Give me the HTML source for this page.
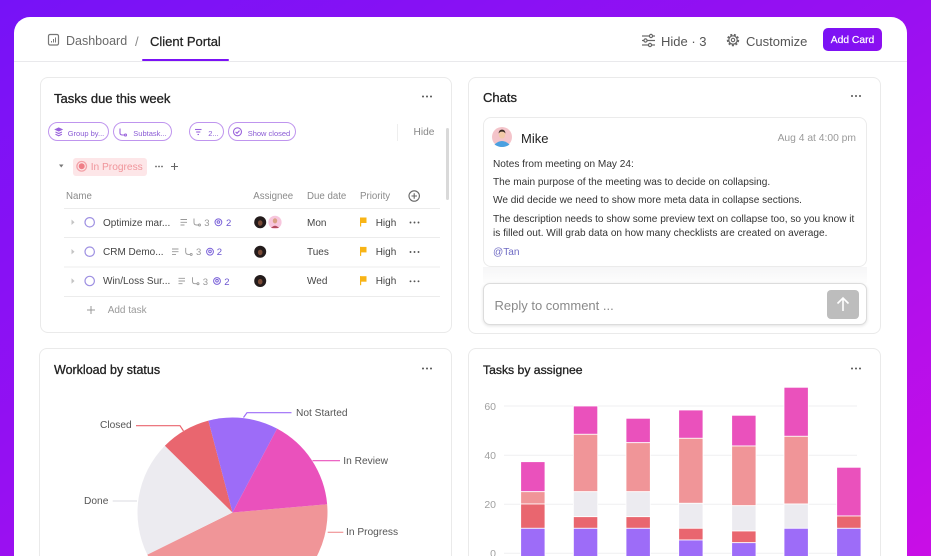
<!DOCTYPE html>
<html><head><meta charset="utf-8">
<style>
*{margin:0;padding:0;box-sizing:border-box}
html,body{width:931px;height:556px;overflow:hidden}
body{position:relative;font-family:"Liberation Sans",Arial,sans-serif;background:linear-gradient(150deg,#7612f7 0%,#9a10f1 50%,#c90ee6 100%)}
.panel{position:absolute;left:14px;top:17px;width:893px;height:580px;background:#fff;border-radius:16px}
.card{position:absolute;background:#fff;border:1px solid #eaeaea;border-radius:8px}
.t{position:absolute;white-space:nowrap;line-height:1;margin-top:1.5px}
.ttl{-webkit-text-stroke:0.3px #222;color:#222}
svg.ov{position:absolute;left:0;top:0}
</style></head><body>
<div class="panel"></div>
<div style="position:absolute;left:14px;top:61px;width:893px;height:1px;background:#e9e9ec"></div>
<div style="position:absolute;left:142px;top:58.5px;width:87px;height:2.5px;background:#7b12f5;border-radius:2px"></div>

<!-- cards -->
<div class="card" style="left:40px;top:77px;width:412px;height:256px"></div>
<div class="card" style="left:468px;top:77px;width:413px;height:257px"></div>
<div class="card" style="left:39px;top:348px;width:413px;height:230px"></div>
<div class="card" style="left:468px;top:348px;width:413px;height:230px"></div>

<!-- chat inner -->
<div style="position:absolute;left:483px;top:267px;width:384px;height:16px;background:linear-gradient(#f6f6f7,#fdfdfd)"></div>
<div style="position:absolute;left:483px;top:117px;width:384px;height:150px;border:1px solid #ebebeb;border-radius:8px;background:#fff"></div>
<div style="position:absolute;left:483px;top:283px;width:384px;height:42px;border:1px solid #dcdcdc;border-radius:7px;background:#fff;box-shadow:0 1px 3px rgba(0,0,0,0.12)"></div>
<div style="position:absolute;left:827px;top:290px;width:32px;height:29px;background:#bdbdbd;border-radius:4px"></div>

<!-- add card btn -->
<div style="position:absolute;left:823px;top:28px;width:59px;height:23px;border-radius:5px;background:linear-gradient(90deg,#7a12f5,#8c10f0)"></div>

<!-- in progress pill -->
<div style="position:absolute;left:73px;top:158px;width:74px;height:18px;background:#fde6e8;border-radius:3px"></div>

<!-- chips -->
<div style="position:absolute;left:48px;top:122px;width:61px;height:19px;border:1.2px solid #bf95ee;border-radius:10px"></div>
<div style="position:absolute;left:113px;top:122px;width:59px;height:19px;border:1.2px solid #bf95ee;border-radius:10px"></div>
<div style="position:absolute;left:189px;top:122px;width:35px;height:19px;border:1.2px solid #bf95ee;border-radius:10px"></div>
<div style="position:absolute;left:228px;top:122px;width:68px;height:19px;border:1.2px solid #bf95ee;border-radius:10px"></div>
<div style="position:absolute;left:397px;top:124px;width:1px;height:17px;background:#eee"></div>
<div style="position:absolute;left:446px;top:128px;width:3px;height:72px;background:#d9d9d9;border-radius:2px"></div>

<svg class="ov" width="931" height="556" viewBox="0 0 931 556">
  <!-- dashboard icon -->
  <rect x="48.5" y="34.5" width="10" height="10.5" rx="1.5" fill="none" stroke="#777" stroke-width="1.2"/>
  <line x1="51.5" y1="42.5" x2="51.5" y2="41" stroke="#777" stroke-width="1"/>
  <line x1="53.5" y1="42.5" x2="53.5" y2="39" stroke="#777" stroke-width="1"/>
  <line x1="55.5" y1="42.5" x2="55.5" y2="37.5" stroke="#777" stroke-width="1"/>
  <!-- sliders -->
  <g stroke="#666" stroke-width="1.2" fill="#fff">
    <line x1="642" y1="36" x2="655" y2="36"/><line x1="642" y1="40.5" x2="655" y2="40.5"/><line x1="642" y1="45" x2="655" y2="45"/>
    <circle cx="651" cy="36" r="1.6"/><circle cx="645.5" cy="40.5" r="1.6"/><circle cx="650" cy="45" r="1.6"/>
  </g>
  <!-- gear -->
  <circle cx="733" cy="40" r="5.2" fill="none" stroke="#666" stroke-width="2" stroke-dasharray="2 1.6"/>
  <circle cx="733" cy="40" r="4.2" fill="#fff" stroke="#666" stroke-width="1.2"/>
  <circle cx="733" cy="40" r="1.7" fill="none" stroke="#666" stroke-width="1.1"/>

  <!-- dots -->
  <g fill="#555">
    <circle cx="423" cy="96.5" r="1"/><circle cx="427" cy="96.5" r="1"/><circle cx="431" cy="96.5" r="1"/>
    <circle cx="852" cy="96" r="1"/><circle cx="856" cy="96" r="1"/><circle cx="860" cy="96" r="1"/>
    <circle cx="423" cy="368.5" r="1"/><circle cx="427" cy="368.5" r="1"/><circle cx="431" cy="368.5" r="1"/>
    <circle cx="852" cy="368.5" r="1"/><circle cx="856" cy="368.5" r="1"/><circle cx="860" cy="368.5" r="1"/>
  </g>

  <!-- chip icons -->
  <g fill="none" stroke="#9a63dc" stroke-width="1.1">
    <path d="M55.5 129.5 L58.7 128 L61.9 129.5 L58.7 131 Z" fill="#9a63dc"/>
    <path d="M55.5 132 L58.7 133.5 L61.9 132"/><path d="M55.5 134.3 L58.7 135.8 L61.9 134.3"/>
    <path d="M120 128.5 L120 133 Q120 135 122.5 135 L125 135"/><circle cx="125.5" cy="135" r="1"/>
    <line x1="195" y1="129.5" x2="201.5" y2="129.5"/><line x1="196.2" y1="132" x2="200.3" y2="132"/><line x1="197.5" y1="134.5" x2="199" y2="134.5"/>
    <circle cx="237.5" cy="131.8" r="4"/><path d="M235.6 131.9 L237 133.3 L239.5 130.6"/>
  </g>

  <!-- in progress -->
  <path d="M59 164.5 L63.5 164.5 L61.25 167.5 Z" fill="#777"/>
  <circle cx="81.7" cy="166.3" r="4.8" fill="none" stroke="#f3a2a8" stroke-width="1.3"/>
  <circle cx="81.7" cy="166.3" r="3" fill="#ef7e87"/>
  <g fill="#666"><circle cx="156" cy="166.5" r="0.9"/><circle cx="159" cy="166.5" r="0.9"/><circle cx="162" cy="166.5" r="0.9"/></g>
  <path d="M171 166.5 H178 M174.5 163 V170" stroke="#666" stroke-width="1.1"/>

  <!-- table header plus -->
  <circle cx="414.2" cy="196" r="5.2" fill="none" stroke="#666" stroke-width="1.1"/>
  <path d="M411.5 196 H417 M414.2 193.3 V198.7" stroke="#666" stroke-width="1.1"/>

  <!-- row lines -->
  <g stroke="#ececec" stroke-width="1">
    <line x1="64" y1="208.5" x2="440" y2="208.5"/><line x1="64" y1="237.5" x2="440" y2="237.5"/>
    <line x1="64" y1="267" x2="440" y2="267"/><line x1="64" y1="296.5" x2="440" y2="296.5"/>
  </g>

  <!-- rows -->
  <g id="rows">
    <g fill="#c4c4c4">
      <path d="M71.5 219.5 L74.5 222.3 L71.5 225 Z"/><path d="M71.5 249 L74.5 251.7 L71.5 254.4 Z"/><path d="M71.5 278.3 L74.5 281 L71.5 283.7 Z"/>
    </g>
    <g fill="none" stroke="#9e90e2" stroke-width="1.2">
      <circle cx="89.7" cy="222.3" r="4.7"/><circle cx="89.7" cy="251.7" r="4.7"/><circle cx="89.7" cy="281" r="4.7"/>
    </g>
    <g stroke="#999" stroke-width="0.9">
      <path d="M180.5 219.5 H187 M180.5 222.3 H187 M180.5 225 H184.5"/>
      <path d="M172 249 H178.5 M172 251.7 H178.5 M172 254.4 H176"/>
      <path d="M178.5 278.3 H185 M178.5 281 H185 M178.5 283.7 H182.5"/>
    </g>
    <g fill="none" stroke="#999" stroke-width="0.9">
      <path d="M194 218.5 V222.5 Q194 225 196.5 225 H198.5"/><circle cx="199.5" cy="225" r="1"/>
      <path d="M185.7 247.9 V251.9 Q185.7 254.4 188.2 254.4 H190.2"/><circle cx="191.2" cy="254.4" r="1"/>
      <path d="M192.5 277.2 V281.2 Q192.5 283.7 195 283.7 H197"/><circle cx="198" cy="283.7" r="1"/>
    </g>
    <g fill="none" stroke="#7b62d9" stroke-width="1">
      <circle cx="218.4" cy="222.3" r="3.4"/><circle cx="218.4" cy="222" r="1.3"/>
      <circle cx="210" cy="251.7" r="3.4"/><circle cx="210" cy="251.4" r="1.3"/>
      <circle cx="217" cy="281" r="3.4"/><circle cx="217" cy="280.7" r="1.3"/>
    </g>
    <g>
      <circle cx="275" cy="222.3" r="6.6" fill="#f7c6dd"/>
      <ellipse cx="275" cy="220.8" rx="2.2" ry="2.6" fill="#d9a184"/>
      <path d="M271 228 Q275 223.5 279 228 Z" fill="#b24a5e"/>
      <circle cx="260.2" cy="222.3" r="6.6" fill="#fff"/>
      <circle cx="260.2" cy="222.3" r="6" fill="#231b1b"/>
      <ellipse cx="260.2" cy="223" rx="2.3" ry="2.8" fill="#7a4a36"/>
      <circle cx="260.2" cy="251.7" r="6" fill="#231b1b"/>
      <ellipse cx="260.2" cy="252.4" rx="2.3" ry="2.8" fill="#7a4a36"/>
      <circle cx="260.2" cy="281" r="6" fill="#231b1b"/>
      <ellipse cx="260.2" cy="281.7" rx="2.3" ry="2.8" fill="#7a4a36"/>
    </g>
    <g fill="#f8b416">
      <rect x="360" y="217.5" width="6.5" height="5.5"/><rect x="360" y="217.5" width="1.2" height="9"/>
      <rect x="360" y="246.9" width="6.5" height="5.5"/><rect x="360" y="246.9" width="1.2" height="9"/>
      <rect x="360" y="276.2" width="6.5" height="5.5"/><rect x="360" y="276.2" width="1.2" height="9"/>
    </g>
    <g fill="#555">
      <circle cx="410.5" cy="222.5" r="0.95"/><circle cx="414.5" cy="222.5" r="0.95"/><circle cx="418.5" cy="222.5" r="0.95"/>
      <circle cx="410.5" cy="252" r="0.95"/><circle cx="414.5" cy="252" r="0.95"/><circle cx="418.5" cy="252" r="0.95"/>
      <circle cx="410.5" cy="281.3" r="0.95"/><circle cx="414.5" cy="281.3" r="0.95"/><circle cx="418.5" cy="281.3" r="0.95"/>
    </g>
    <path d="M87 310 H95 M91 306 V314" stroke="#999" stroke-width="1"/>
  </g>

  <!-- Mike avatar -->
  <circle cx="502" cy="137" r="10" fill="#f4c4ca"/>
  <path d="M494.5 144.5 Q502 137.5 509.5 144.5 Q506 147 502 147 Q498 147 494.5 144.5 Z" fill="#4aa0e0"/>
  <ellipse cx="502" cy="134.5" rx="3.3" ry="4" fill="#f2c9a8"/>
  <path d="M498.6 133.5 Q499 129.5 502 129.6 Q505.2 129.5 505.4 133.5 Q504 131.3 502 131.6 Q500 131.3 498.6 133.5 Z" fill="#3a2a24"/>

  <!-- send arrow -->
  <path d="M843 311 V298 M837.5 303.5 L843 298 L848.5 303.5" fill="none" stroke="#fff" stroke-width="1.6"/>

  <!-- PIE -->
  <g>
    <path d="M232.5 512.5 L327.14 504.22 A95 95 0 0 1 147.33 554.59 Z" fill="#f09598"/>
    <path d="M232.5 512.5 L147.33 554.59 A95 95 0 0 1 164.86 445.79 Z" fill="#ecebf0"/>
    <path d="M232.5 512.5 L164.86 445.79 A95 95 0 0 1 208.39 420.61 Z" fill="#e9666f"/>
    <path d="M232.5 512.5 L208.39 420.61 A95 95 0 0 1 277.10 428.62 Z" fill="#9d6cf8"/>
    <path d="M232.5 512.5 L277.10 428.62 A95 95 0 0 1 327.14 504.22 Z" fill="#ea51bc"/>
  </g>
  <g fill="none" stroke-width="1.2">
    <path d="M243.5 417.5 L247 412.7 H291.5" stroke="#9d6cf8"/>
    <path d="M136 425.7 H180 L183.5 431" stroke="#e9666f"/>
    <path d="M312.5 460.7 H340" stroke="#ea51bc"/>
    <path d="M112.7 501 H137" stroke="#e2e2e6"/>
    <path d="M327.7 532.3 H343.3" stroke="#f09598"/>
  </g>

  <!-- BAR grid -->
  <g stroke="#efeff1" stroke-width="1">
    <line x1="504" y1="406" x2="857" y2="406"/><line x1="504" y1="455.3" x2="857" y2="455.3"/>
    <line x1="504" y1="504.3" x2="857" y2="504.3"/><line x1="504" y1="553.3" x2="857" y2="553.3"/>
  </g>
  <g stroke="#fff" stroke-width="0.8">
    <rect x="520.7" y="461.7" width="24.3" height="30" fill="#ea51bc"/>
    <rect x="520.7" y="491.7" width="24.3" height="12.3" fill="#f09598"/>
    <rect x="520.7" y="504" width="24.3" height="24.3" fill="#e9666f"/>
    <rect x="520.7" y="528.3" width="24.3" height="40" fill="#9d6cf8"/>
    <rect x="573.4" y="406" width="24.3" height="28.3" fill="#ea51bc"/>
    <rect x="573.4" y="434.3" width="24.3" height="57.4" fill="#f09598"/>
    <rect x="573.4" y="491.7" width="24.3" height="25" fill="#ecebf0"/>
    <rect x="573.4" y="516.7" width="24.3" height="11.6" fill="#e9666f"/>
    <rect x="573.4" y="528.3" width="24.3" height="40" fill="#9d6cf8"/>
    <rect x="626" y="418.3" width="24.3" height="24.4" fill="#ea51bc"/>
    <rect x="626" y="442.7" width="24.3" height="49" fill="#f09598"/>
    <rect x="626" y="491.7" width="24.3" height="25" fill="#ecebf0"/>
    <rect x="626" y="516.7" width="24.3" height="11.6" fill="#e9666f"/>
    <rect x="626" y="528.3" width="24.3" height="40" fill="#9d6cf8"/>
    <rect x="678.7" y="410" width="24.3" height="28.3" fill="#ea51bc"/>
    <rect x="678.7" y="438.3" width="24.3" height="65" fill="#f09598"/>
    <rect x="678.7" y="503.3" width="24.3" height="25" fill="#ecebf0"/>
    <rect x="678.7" y="528.3" width="24.3" height="11.7" fill="#e9666f"/>
    <rect x="678.7" y="540" width="24.3" height="30" fill="#9d6cf8"/>
    <rect x="731.7" y="415.3" width="24.3" height="30.7" fill="#ea51bc"/>
    <rect x="731.7" y="446" width="24.3" height="59.7" fill="#f09598"/>
    <rect x="731.7" y="505.7" width="24.3" height="25.3" fill="#ecebf0"/>
    <rect x="731.7" y="531" width="24.3" height="11.7" fill="#e9666f"/>
    <rect x="731.7" y="542.7" width="24.3" height="30" fill="#9d6cf8"/>
    <rect x="784" y="387.3" width="24.3" height="49" fill="#ea51bc"/>
    <rect x="784" y="436.3" width="24.3" height="67.7" fill="#f09598"/>
    <rect x="784" y="504" width="24.3" height="24.3" fill="#ecebf0"/>
    <rect x="784" y="528.3" width="24.3" height="40" fill="#9d6cf8"/>
    <rect x="836.7" y="467.3" width="24.3" height="48.7" fill="#ea51bc"/>
    <rect x="836.7" y="516" width="24.3" height="12.3" fill="#e9666f"/>
    <rect x="836.7" y="528.3" width="24.3" height="40" fill="#9d6cf8"/>
  </g>
</svg>

<!-- header text -->
<div class="t" style="left:66px;top:33.4px;font-size:12.5px;color:#6a6a6a">Dashboard</div>
<div class="t" style="left:135px;top:33.1px;font-size:13px;color:#8a8a8a">/</div>
<div class="t" style="left:150px;top:33.1px;font-size:13px;color:#222;-webkit-text-stroke:0.25px #222">Client Portal</div>
<div class="t" style="left:661px;top:33.1px;font-size:13px;color:#555">Hide · 3</div>
<div class="t" style="left:746px;top:33.1px;font-size:13px;color:#555">Customize</div>
<div class="t" style="left:823px;top:34px;width:59px;text-align:center;font-size:10.3px;color:#fff;-webkit-text-stroke:0.2px #fff">Add Card</div>

<!-- titles -->
<div class="t ttl" style="left:54px;top:90.1px;font-size:13px">Tasks due this week</div>
<div class="t ttl" style="left:483px;top:89.6px;font-size:13px">Chats</div>
<div class="t ttl" style="left:54px;top:362.4px;font-size:12.5px">Workload by status</div>
<div class="t ttl" style="left:483px;top:362.5px;font-size:12.2px">Tasks by assignee</div>

<!-- chips -->
<div class="t" style="left:67.7px;top:128.3px;font-size:7.5px;color:#8a5bd5">Group by...</div>
<div class="t" style="left:133.3px;top:128.3px;font-size:7.5px;color:#8a5bd5">Subtask...</div>
<div class="t" style="left:208.3px;top:128.3px;font-size:7.5px;color:#8a5bd5">2...</div>
<div class="t" style="left:247.7px;top:128.3px;font-size:7.5px;color:#8a5bd5">Show closed</div>
<div class="t" style="left:413.5px;top:126.1px;font-size:10.2px;color:#888">Hide</div>

<div class="t" style="left:90.7px;top:161.1px;font-size:10.2px;color:#f0959b">In Progress</div>

<!-- table header -->
<div class="t" style="left:66px;top:190.9px;font-size:9.7px;color:#8a8a8a">Name</div>
<div class="t" style="left:253.3px;top:190.9px;font-size:9.7px;color:#8a8a8a">Assignee</div>
<div class="t" style="left:307px;top:190.9px;font-size:9.7px;color:#8a8a8a">Due date</div>
<div class="t" style="left:360px;top:190.9px;font-size:9.7px;color:#8a8a8a">Priority</div>

<!-- rows -->
<div class="t" style="left:103px;top:217px;font-size:10px;color:#444">Optimize mar...</div>
<div class="t" style="left:204.3px;top:217.5px;font-size:9.5px;color:#999">3</div>
<div class="t" style="left:226px;top:217.5px;font-size:9.5px;color:#6b55d0">2</div>
<div class="t" style="left:307px;top:217px;font-size:10px;color:#444">Mon</div>
<div class="t" style="left:375.7px;top:217px;font-size:10px;color:#444">High</div>

<div class="t" style="left:103px;top:246.4px;font-size:10px;color:#444">CRM Demo...</div>
<div class="t" style="left:196px;top:246.9px;font-size:9.5px;color:#999">3</div>
<div class="t" style="left:216.7px;top:246.9px;font-size:9.5px;color:#6b55d0">2</div>
<div class="t" style="left:307px;top:246.4px;font-size:10px;color:#444">Tues</div>
<div class="t" style="left:375.7px;top:246.4px;font-size:10px;color:#444">High</div>

<div class="t" style="left:103px;top:275.7px;font-size:10px;color:#444">Win/Loss Sur...</div>
<div class="t" style="left:202.7px;top:276.2px;font-size:9.5px;color:#999">3</div>
<div class="t" style="left:224.3px;top:276.2px;font-size:9.5px;color:#6b55d0">2</div>
<div class="t" style="left:307px;top:275.7px;font-size:10px;color:#444">Wed</div>
<div class="t" style="left:375.7px;top:275.7px;font-size:10px;color:#444">High</div>

<div class="t" style="left:107.7px;top:304.7px;font-size:10px;color:#9a9a9a">Add task</div>

<!-- chat -->
<div class="t" style="left:521px;top:130.6px;font-size:13px;color:#222">Mike</div>
<div class="t" style="left:756px;top:132.5px;width:100px;text-align:right;font-size:10.3px;color:#9a9a9a">Aug 4 at 4:00 pm</div>
<div class="t" style="left:493px;top:158px;font-size:10.1px;color:#333">Notes from meeting on May 24:</div>
<div class="t" style="left:493px;top:176.3px;font-size:10.1px;color:#333">The main purpose of the meeting was to decide on collapsing.</div>
<div class="t" style="left:493px;top:194.6px;font-size:10.1px;color:#333">We did decide we need to show more meta data in collapse sections.</div>
<div class="t" style="left:493px;top:213.9px;font-size:10.1px;color:#333">The description needs to show some preview text on collapse too, so you know it</div>
<div class="t" style="left:493px;top:227px;font-size:10.1px;color:#333">is filled out. Will grab data on how many checklists are created on average.</div>
<div class="t" style="left:493px;top:246px;font-size:10.1px;color:#6f6bc4">@Tan</div>
<div class="t" style="left:494.5px;top:297.1px;font-size:13px;color:#8a8a8a">Reply to comment ...</div>

<!-- pie labels -->
<div class="t" style="left:100px;top:419.9px;font-size:10.2px;color:#555">Closed</div>
<div class="t" style="left:296px;top:407.6px;font-size:10.2px;color:#555">Not Started</div>
<div class="t" style="left:343.3px;top:455.6px;font-size:10.2px;color:#555">In Review</div>
<div class="t" style="left:84px;top:495.3px;font-size:10.2px;color:#555">Done</div>
<div class="t" style="left:346px;top:526.9px;font-size:10.2px;color:#555">In Progress</div>

<!-- y axis -->
<div class="t" style="left:466px;top:400.4px;width:30px;text-align:right;font-size:10.5px;color:#a0a0a0">60</div>
<div class="t" style="left:466px;top:449.7px;width:30px;text-align:right;font-size:10.5px;color:#a0a0a0">40</div>
<div class="t" style="left:466px;top:498.7px;width:30px;text-align:right;font-size:10.5px;color:#a0a0a0">20</div>
<div class="t" style="left:466px;top:547.4px;width:30px;text-align:right;font-size:10.5px;color:#a0a0a0">0</div>
</body></html>
